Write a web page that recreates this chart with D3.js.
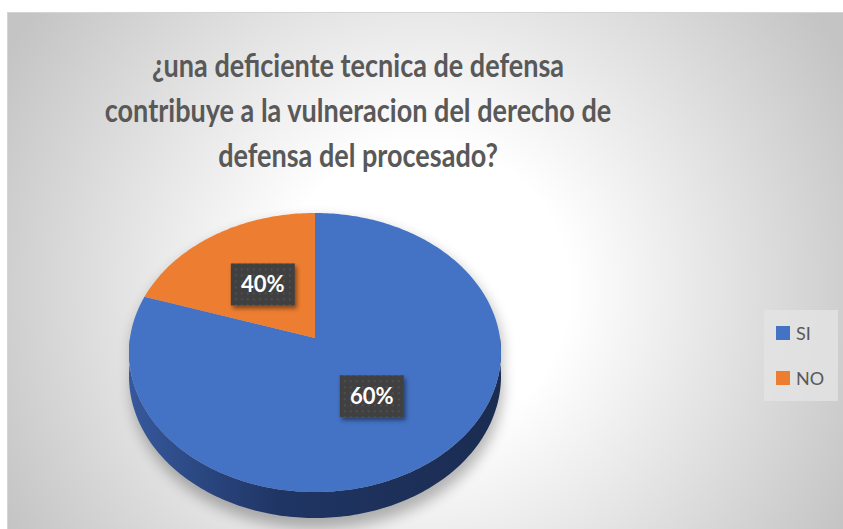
<!DOCTYPE html>
<html>
<head>
<meta charset="utf-8">
<script src="https://cdn.jsdelivr.net/npm/d3@7"></script>
<style>
  html, body { margin: 0; padding: 0; background: #ffffff; }
  svg { display: block; }
</style>
</head>
<body>
<div id="chart"></div>
<script>
// chart data
const titleLines = ["¿una deficiente tecnica de defensa", "contribuye a la vulneracion del derecho de", "defensa del procesado?"];
const categories = ["SI", "NO"];
const values = [80, 20];
const labelTexts = ["60%", "40%"];
const colors = ["#4472c4", "#ed7d31"];

const width = 843, height = 529;

const svg = d3.select("#chart").append("svg")
    .attr("width", width)
    .attr("height", height);

const defs = svg.append("defs");

const bg = defs.append("radialGradient")
    .attr("id", "bg-grad")
    .attr("gradientUnits", "userSpaceOnUse")
    .attr("cx", 425).attr("cy", 290).attr("r", 480);
bg.append("stop").attr("offset", "0").attr("stop-color", "#ffffff");
bg.append("stop").attr("offset", "0.3").attr("stop-color", "#ffffff");
bg.append("stop").attr("offset", "1").attr("stop-color", "#c4c4c4");

const sideGrad = defs.append("linearGradient")
    .attr("id", "side-grad")
    .attr("gradientUnits", "userSpaceOnUse")
    .attr("x1", 130).attr("x2", 500).attr("y1", 0).attr("y2", 0);
sideGrad.append("stop").attr("offset", "0").attr("stop-color", "#36589c");
sideGrad.append("stop").attr("offset", "0.4").attr("stop-color", "#1f3564");
sideGrad.append("stop").attr("offset", "1").attr("stop-color", "#1b2c51");

const blur = defs.append("filter").attr("id", "pie-shadow")
    .attr("x", "-20%").attr("y", "-20%").attr("width", "140%").attr("height", "140%");
blur.append("feGaussianBlur").attr("stdDeviation", 7);

const boxShadow = defs.append("filter").attr("id", "box-shadow")
    .attr("x", "-30%").attr("y", "-30%").attr("width", "160%").attr("height", "160%");
boxShadow.append("feDropShadow")
    .attr("dx", 2).attr("dy", 3).attr("stdDeviation", 2)
    .attr("flood-color", "#000").attr("flood-opacity", 0.45);

const dots = defs.append("pattern")
    .attr("id", "dots")
    .attr("patternUnits", "userSpaceOnUse")
    .attr("width", 6).attr("height", 6);
dots.append("rect").attr("width", 6).attr("height", 6).attr("fill", "#404040");
dots.append("circle").attr("cx", 3).attr("cy", 3).attr("r", 1).attr("fill", "#545454");

// chart area
svg.append("rect")
    .attr("x", 7.5).attr("y", 12.5)
    .attr("width", 860).attr("height", 540)
    .attr("fill", "url(#bg-grad)")
    .attr("stroke", "#d4d4d4");

// title (Lato is wider than the original font, so squeeze it a bit)
const title = svg.append("text")
    .attr("transform", "translate(358, 0) scale(0.82, 1)")
    .attr("text-anchor", "middle")
    .attr("font-family", "Lato, 'Open Sans', sans-serif")
    .attr("font-weight", "bold")
    .attr("font-size", 33)
    .attr("fill", "#595959");
title.selectAll("tspan")
    .data(titleLines)
    .enter()
    .append("tspan")
    .attr("x", 0)
    .attr("y", function(d, i) { return 77 + i * 45; })
    .text(function(d) { return d; });

// 3d pie projection
const pieC = {x: 315, y: 338};
const radius = 185;
const tiltY = 0.746;
const persp = 0.104;
const depth = 23.3;

const project = function(theta, frac, drop) {
    const u = radius * frac * Math.sin(theta);
    const v = radius * frac * Math.cos(theta);
    const s = 1 / (1 + persp * v / radius);
    return [pieC.x + u * s, pieC.y - v * tiltY * s + drop * s];
};

const arcPoints = function(a0, a1, drop) {
    const n = Math.max(2, Math.ceil(Math.abs(a1 - a0) / (Math.PI / 180)));
    const pts = [];
    for (let i = 0; i <= n; i++) {
        pts.push(project(a0 + (a1 - a0) * i / n, 1, drop));
    }
    return pts;
};

const line = d3.line();

const pie = d3.pie().sort(null).value(function(d) { return d; });
const arcs = pie(values);

const pieG = svg.append("g");

// shadow under the pie
const shadowPts = arcPoints(-Math.PI / 2, Math.PI / 2, 0)
    .concat(arcPoints(Math.PI / 2, 3 * Math.PI / 2, depth + 4));
pieG.append("path")
    .attr("d", line(shadowPts) + "Z")
    .attr("fill", "#000")
    .attr("opacity", 0.28)
    .attr("transform", "translate(2, 6)")
    .attr("filter", "url(#pie-shadow)");

// side wall (near half)
const sidePts = arcPoints(Math.PI / 2, 3 * Math.PI / 2, 0)
    .concat(arcPoints(3 * Math.PI / 2, Math.PI / 2, depth));
pieG.append("path")
    .attr("d", line(sidePts) + "Z")
    .attr("fill", "url(#side-grad)");

// top faces
pieG.selectAll("path.slice")
    .data(arcs)
    .enter()
    .append("path")
    .attr("class", "slice")
    .attr("d", function(d) {
        const pts = [project(0, 0, 0)].concat(arcPoints(d.startAngle, d.endAngle, 0));
        return line(pts) + "Z";
    })
    .attr("fill", function(d, i) { return colors[i]; });

// data labels
const labelG = svg.append("g")
    .selectAll("g")
    .data(arcs)
    .enter()
    .append("g")
    .attr("transform", function(d) {
        const p = project((d.startAngle + d.endAngle) / 2, 0.5, 0);
        return `translate(${p[0]}, ${p[1]})`;
    });

labelG.append("rect")
    .attr("x", -32).attr("y", -21)
    .attr("width", 64).attr("height", 42)
    .attr("fill", "url(#dots)")
    .attr("filter", "url(#box-shadow)");

labelG.append("text")
    .attr("text-anchor", "middle")
    .attr("y", 8)
    .attr("font-family", "Lato, sans-serif")
    .attr("font-weight", "bold")
    .attr("font-size", 22)
    .attr("fill", "#ffffff")
    .text(function(d, i) { return labelTexts[i]; });

// legend
const legend = svg.append("g");
legend.append("rect")
    .attr("x", 764).attr("y", 310)
    .attr("width", 74).attr("height", 91)
    .attr("fill", "#e4e4e4")
    .attr("fill-opacity", 0.8);

const legendItem = legend.selectAll("g.item")
    .data(categories)
    .enter()
    .append("g")
    .attr("class", "item")
    .attr("transform", function(d, i) { return `translate(776, ${326 + i * 45})`; });

legendItem.append("rect")
    .attr("width", 14).attr("height", 14)
    .attr("fill", function(d, i) { return colors[i]; });

legendItem.append("text")
    .attr("x", 20).attr("y", 14)
    .attr("font-family", "Lato, sans-serif")
    .attr("font-size", 18)
    .attr("fill", "#595959")
    .text(function(d) { return d; });
</script>
</body>
</html>
